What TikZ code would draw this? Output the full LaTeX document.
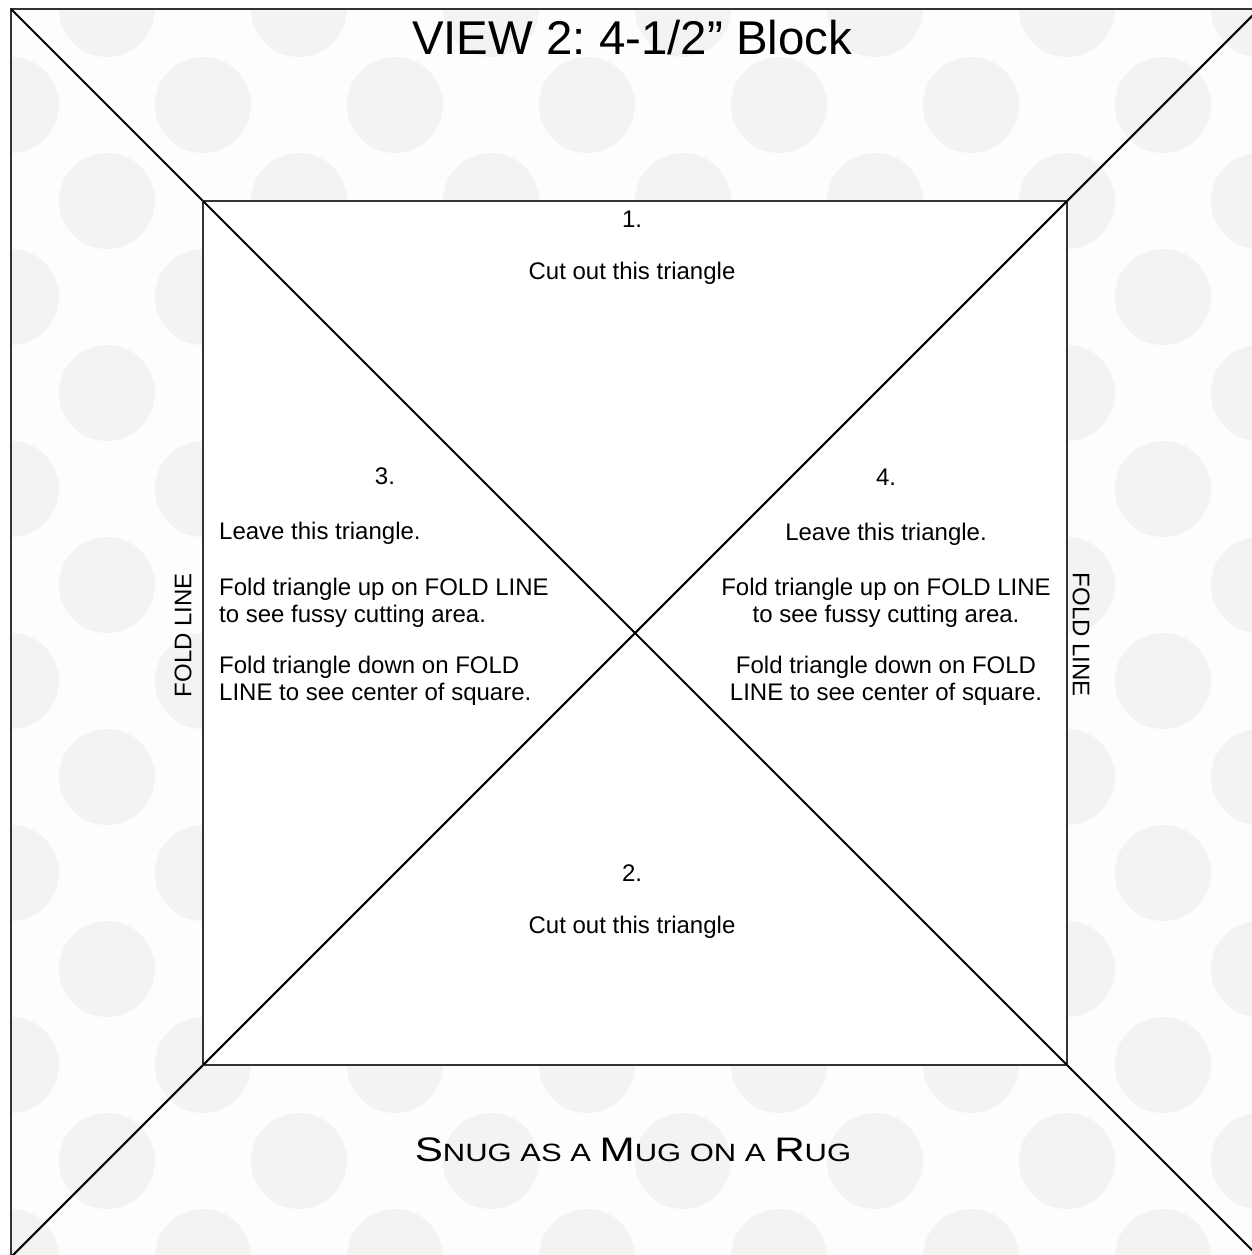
\documentclass[tikz,border=0pt]{standalone}
\usepackage{fontspec}
\setmainfont{Liberation Sans}
\newfontfamily\snugfont[FakeStretch=1.24]{Liberation Sans}
\definecolor{dotc}{HTML}{F4F3F2}
\definecolor{bgc}{HTML}{FDFDFD}
\definecolor{framec}{HTML}{333333}
\newcommand{\bigsc}[1]{{\fontsize{34}{34}\selectfont #1}}
\newcommand{\smallsc}[1]{{\fontsize{25}{25}\selectfont #1}}
\frenchspacing
\begin{document}
\begin{tikzpicture}[x=1pt,y=-1pt,
  body/.style={font=\fontsize{24}{27}\selectfont, inner sep=0pt, anchor=base},
  titletext/.style={font=\fontsize{47.4}{50}\selectfont, inner sep=0pt, anchor=base},
  foldtext/.style={font=\fontsize{24}{27}\selectfont, inner sep=0pt},
  frameline/.style={draw=framec, line width=2.4pt},
  diagline/.style={draw=black, line width=2.1pt}]
\useasboundingbox (0,0) rectangle (1251,1255);
\fill[white] (0,0) rectangle (1251,1255);
\coordinate (OTL) at (11,9);
\coordinate (OTR) at (1259,9);
\coordinate (OBL) at (11,1257);
\coordinate (OBR) at (1259,1257);
\coordinate (ITL) at (203,201);
\coordinate (ITR) at (1067,201);
\coordinate (IBL) at (203,1065);
\coordinate (IBR) at (1067,1065);
\begin{scope}
  \clip (OTL) rectangle (OBR);
  \fill[bgc] (OTL) rectangle (OBR);
  \foreach \j in {0,2,...,12} {
    \foreach \i in {1,3,...,13} {
      \fill[dotc] ({11+96*\i},{9+96*\j}) circle (48pt);
    }
  }
  \foreach \j in {1,3,...,13} {
    \foreach \i in {0,2,...,12} {
      \fill[dotc] ({11+96*\i},{9+96*\j}) circle (48pt);
    }
  }
\end{scope}
\fill[white] (ITL) rectangle (IBR);
% outer frame
\draw[frameline] (OBL) -- (OTL) -- (OTR) -- (OBR) -- cycle;
% corner diagonals
\draw[diagline] (OTL) -- (ITL);
\draw[diagline] (ITR) -- (OTR);
\draw[diagline] (IBL) -- (OBL);
\draw[diagline] (IBR) -- (OBR);
% inner square and its diagonals
\draw[frameline] (ITL) rectangle (IBR);
\draw[diagline] (ITL) -- (IBR);
\draw[diagline] (ITR) -- (IBL);
% texts
\node[titletext] (title) at (632,55) {VIEW 2: 4-1/2” Block};
\node[body] (n1) at (632,227) {1.};
\node[body] (c1) at (632,279) {Cut out this triangle};
\node[body] (n2) at (632,881) {2.};
\node[body] (c2) at (632,933) {Cut out this triangle};
\node[body] (n3) at (385,484) {3.};
\node[body, anchor=base west] (l3a) at (219,539) {Leave this triangle.};
\node[body, anchor=base west] (l3b) at (219,595) {Fold triangle up on FOLD LINE};
\node[body, anchor=base west] (l3c) at (219,622) {to see fussy cutting area.};
\node[body, anchor=base west] (l3d) at (219,673) {Fold triangle down on FOLD};
\node[body, anchor=base west] (l3e) at (219,700) {LINE to see center of square.};
\node[body] (n4) at (886,485) {4.};
\node[body] (l4a) at (886,540) {Leave this triangle.};
\node[body] (l4b) at (886,595) {Fold triangle up on FOLD LINE};
\node[body] (l4c) at (886,622) {to see fussy cutting area.};
\node[body] (l4d) at (886,673) {Fold triangle down on FOLD};
\node[body] (l4e) at (886,700) {LINE to see center of square.};
\node[foldtext, rotate=90] (foldL) at (183,635) {FOLD LINE};
\node[foldtext, rotate=-90] (foldR) at (1081,635) {FOLD LINE};
\node[inner sep=0pt, anchor=base] (snug) at (633,1161)
  {\snugfont\bigsc{S}\smallsc{NUG AS A }\bigsc{M}\smallsc{UG ON A }\bigsc{R}\smallsc{UG}};
\end{tikzpicture}
\end{document}
